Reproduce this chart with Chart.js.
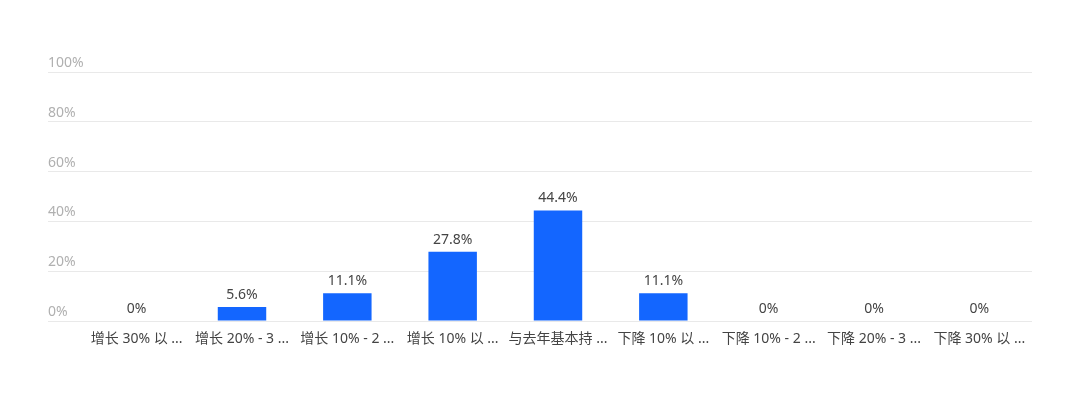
<!DOCTYPE html>
<html>
<head>
<meta charset="utf-8">
<script src="https://cdn.jsdelivr.net/npm/chart.js@4/dist/chart.umd.min.js"></script>
<style>
  html, body { margin: 0; padding: 0; background: #fff; }
  #wrap { width: 1080px; height: 394px; position: relative; }
</style>
</head>
<body>
<div id="wrap"><canvas id="chart"></canvas></div>
<script>
// ===============================
// DATA
// ===============================
const categories = [
  "增长 30% 以 ...",
  "增长 20% - 3 ...",
  "增长 10% - 2 ...",
  "增长 10% 以 ...",
  "与去年基本持 ...",
  "下降 10% 以 ...",
  "下降 10% - 2 ...",
  "下降 20% - 3 ...",
  "下降 30% 以 ..."
];
const shares = [0, 5.6, 11.1, 27.8, 44.4, 11.1, 0, 0, 0];
const yTicks = [0, 20, 40, 60, 80, 100];

const FONT = "'Noto Sans', 'Noto Sans CJK SC', sans-serif";

// ===============================
// VALUE LABELS ABOVE BARS
// ===============================
const valueLabels = {
  id: "valueLabels",
  afterDatasetsDraw(chart) {
    const ctx = chart.ctx;
    const meta = chart.getDatasetMeta(0);
    ctx.save();
    ctx.font = "14px " + FONT;
    ctx.fillStyle = "#444";
    ctx.textAlign = "center";
    ctx.textBaseline = "bottom";
    meta.data.forEach((bar, i) => {
      ctx.fillText(shares[i] + "%", bar.x, bar.y - 5);
    });
    ctx.restore();
  }
};

new Chart(document.getElementById("chart"), {
  type: "bar",
  data: {
    labels: categories,
    datasets: [{
      data: shares,
      backgroundColor: "#1366ff",
      barPercentage: 0.46,
      categoryPercentage: 1
    }]
  },
  options: {
    responsive: true,
    maintainAspectRatio: false,
    animation: false,
    layout: { padding: { top: 72, right: 48, left: 48, bottom: 0 } },
    plugins: {
      legend: { display: false },
      tooltip: { enabled: false }
    },
    scales: {
      x: {
        grid: { display: false },
        border: { display: false },
        ticks: {
          color: "#444",
          font: { family: FONT, size: 14 },
          padding: 2,
          maxRotation: 0,
          autoSkip: false
        },
        afterFit(scale) { scale.height = 73; }
      },
      y: {
        min: 0,
        max: 100,
        afterBuildTicks(scale) {
          scale.ticks = yTicks.map(v => ({ value: v }));
        },
        grid: {
          color: "#e9e9e9",
          tickColor: "#e9e9e9",
          drawTicks: true,
          tickLength: 36
        },
        border: { display: false },
        ticks: {
          color: "#b0b0b0",
          font: { family: FONT, size: 14 },
          crossAlign: "far",
          padding: 0,
          labelOffset: -9,
          callback: v => v + "%"
        },
        afterFit(scale) { scale.width = 36; }
      }
    }
  },
  plugins: [valueLabels]
});
</script>
</body>
</html>
